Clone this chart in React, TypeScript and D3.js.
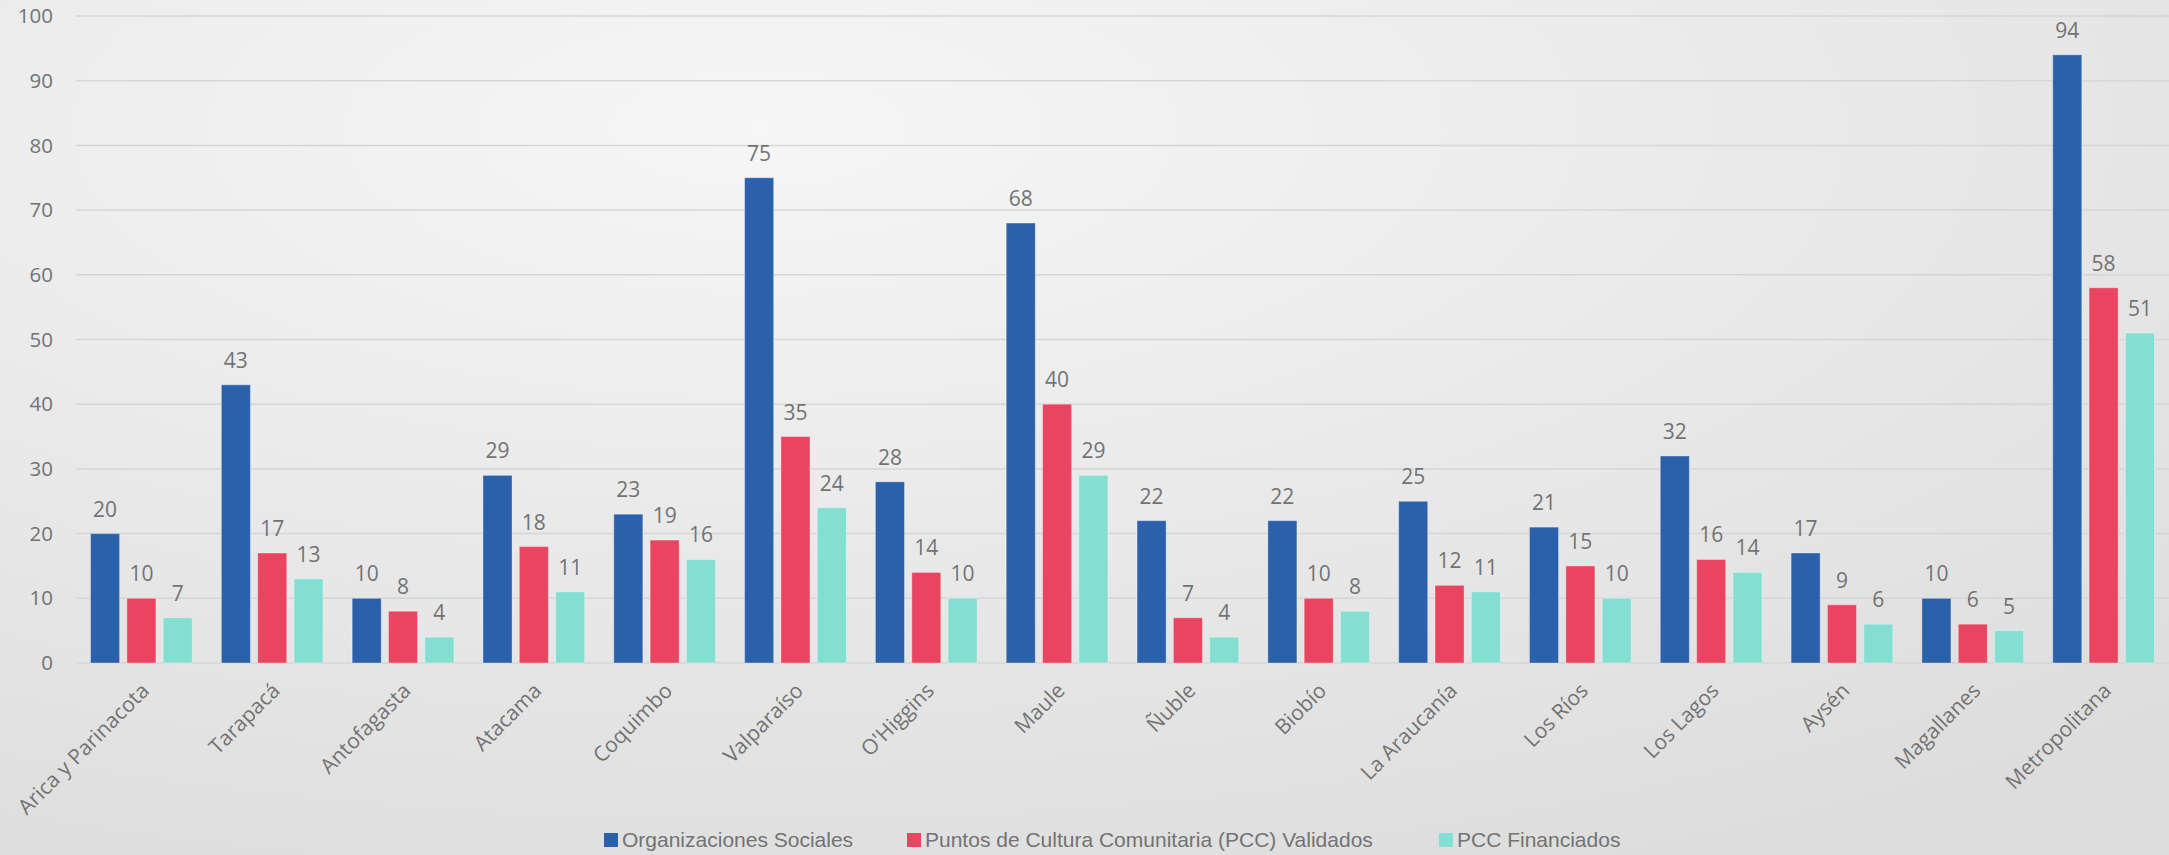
import React, { useEffect, useRef } from 'react';
import * as d3 from 'd3';

const regions = [
  'Arica y Parinacota', 'Tarapacá', 'Antofagasta', 'Atacama', 'Coquimbo', 'Valparaíso',
  "O'Higgins", 'Maule', 'Ñuble', 'Biobío', 'La Araucanía', 'Los Ríos', 'Los Lagos',
  'Aysén', 'Magallanes', 'Metropolitana'
];
const organizaciones = [20, 43, 10, 29, 23, 75, 28, 68, 22, 22, 25, 21, 32, 17, 10, 94];
const pccValidados = [10, 17, 8, 18, 19, 35, 14, 40, 7, 10, 12, 15, 16, 9, 6, 58];
const pccFinanciados = [7, 13, 4, 11, 16, 24, 10, 29, 4, 8, 11, 10, 14, 6, 5, 51];
const seriesNames = [
  'Organizaciones Sociales',
  'Puntos de Cultura Comunitaria (PCC) Validados',
  'PCC Financiados'
];
const yTicks = [0, 10, 20, 30, 40, 50, 60, 70, 80, 90, 100];

const W = 2169;
const H = 855;
const colors = ['#2b61aa', '#ea4560', '#84dfd2'];
const textColor = '#737373';

const App: React.FC = () => {
  const svgRef = useRef<SVGSVGElement>(null);

  useEffect(() => {
    document.body.style.margin = '0';
    if (!svgRef.current) return;
    const svg = d3.select(svgRef.current);
    svg.selectAll('*').remove();

    const margin = { left: 76, right: 0, top: 16, bottom: 192 };
    const values = [organizaciones, pccValidados, pccFinanciados];

    // background gradient
    const defs = svg.append('defs');
    const grad = defs.append('radialGradient')
      .attr('id', 'bg')
      .attr('cx', '35%').attr('cy', '15%').attr('r', '95%');
    grad.append('stop').attr('offset', '0%').attr('stop-color', '#f6f6f6');
    grad.append('stop').attr('offset', '100%').attr('stop-color', '#dddddd');
    svg.append('rect').attr('width', W).attr('height', H).attr('fill', 'url(#bg)');

    const x0 = d3.scaleBand<string>()
      .domain(regions)
      .range([margin.left, W - margin.right]);

    const x1 = d3.scaleBand<string>()
      .domain(seriesNames)
      .range([0, x0.bandwidth()])
      .paddingInner(0.2)
      .paddingOuter(0.4);

    const y = d3.scaleLinear()
      .domain([0, 100])
      .range([H - margin.bottom, margin.top]);

    // gridlines
    svg.append('g')
      .selectAll('line')
      .data(yTicks)
      .enter()
      .append('line')
      .attr('x1', margin.left)
      .attr('x2', W - margin.right)
      .attr('y1', d => y(d))
      .attr('y2', d => y(d))
      .attr('stroke', '#d6d6d6')
      .attr('stroke-width', 1.5);

    // y tick labels
    svg.append('g')
      .selectAll('text')
      .data(yTicks)
      .enter()
      .append('text')
      .attr('x', 53)
      .attr('y', d => y(d))
      .attr('dy', '0.35em')
      .attr('text-anchor', 'end')
      .attr('font-family', 'Open Sans, sans-serif')
      .attr('font-size', 20.5)
      .attr('fill', textColor)
      .text(d => d);

    // bars
    const groups = svg.append('g')
      .selectAll('g')
      .data(regions)
      .enter()
      .append('g')
      .attr('transform', d => `translate(${x0(d)},0)`);

    seriesNames.forEach((s, si) => {
      groups.append('rect')
        .attr('x', x1(s)!)
        .attr('y', (_, i) => y(values[si][i]))
        .attr('width', x1.bandwidth())
        .attr('height', (_, i) => y(0) - y(values[si][i]))
        .attr('fill', colors[si])
        .attr('stroke', 'rgba(255,255,255,0.35)')
        .attr('stroke-width', 1);

      groups.append('text')
        .attr('x', x1(s)! + x1.bandwidth() / 2)
        .attr('y', (_, i) => y(values[si][i]) - 17)
        .attr('text-anchor', 'middle')
        .attr('font-family', 'Open Sans, sans-serif')
        .attr('font-size', 21)
        .attr('fill', textColor)
        .text((_, i) => values[si][i]);
    });

    // x labels
    svg.append('g')
      .selectAll('text')
      .data(regions)
      .enter()
      .append('text')
      .attr('transform', d => `translate(${x0(d)! + x0.bandwidth() / 2 + 9},${y(0) + 29}) rotate(-45)`)
      .attr('text-anchor', 'end')
      .attr('font-family', 'Open Sans, sans-serif')
      .attr('font-size', 21)
      .attr('fill', textColor)
      .text(d => d);

    // legend
    const legendX = [604, 907, 1439];
    const legend = svg.append('g')
      .selectAll('g')
      .data(seriesNames)
      .enter()
      .append('g')
      .attr('transform', (_, i) => `translate(${legendX[i]},840)`);
    legend.append('rect')
      .attr('x', 0)
      .attr('y', -7)
      .attr('width', 14)
      .attr('height', 14)
      .attr('fill', (_, i) => colors[i]);
    legend.append('text')
      .attr('x', 18)
      .attr('y', 0)
      .attr('dy', '0.35em')
      .attr('font-family', 'Liberation Sans Narrow, Arial Narrow, sans-serif')
      .attr('font-size', 21)
      .attr('fill', textColor)
      .text(d => d);
  }, []);

  return <svg ref={svgRef} width={W} height={H} style={{ display: 'block' }} />;
};

export default App;
